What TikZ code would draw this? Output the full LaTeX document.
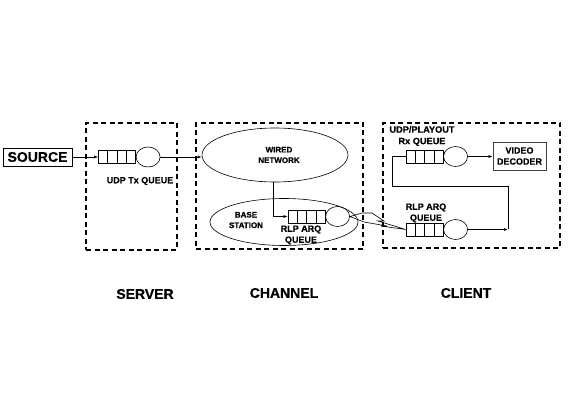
\documentclass[tikz,border=0pt]{standalone}
\usepackage{fontspec}
\setmainfont{Liberation Sans}[BoldFeatures={FakeBold=0.6}]
\usetikzlibrary{arrows.meta,shapes.geometric,calc}
\tikzset{
  x=1pt,y=-1pt,
  lbl/.style={font=\fontsize{8}{10.5}\selectfont\bfseries,align=center,inner sep=0pt},
  lblb/.style={lbl,font=\fontsize{9}{11}\selectfont\bfseries},
  biglbl/.style={font=\fontsize{14}{16}\selectfont\bfseries,inner sep=0pt},
  dbox/.style={draw,line width=1.3pt,dash pattern=on 5pt off 3.5pt},
  qbox/.style={draw,line width=0.6pt,minimum width=37pt,minimum height=13pt,inner sep=0pt},
  qsrv/.style={draw,line width=0.6pt,ellipse,minimum width=24pt,minimum height=20pt,inner sep=0pt},
  arr/.style={line width=0.6pt,-{Latex[length=4pt,width=3pt]}},
  ln/.style={line width=0.6pt},
}
\newcommand{\qcells}[1]{\foreach \f in {0.25,0.5,0.75}{\draw[ln] ($(#1.north west)!\f!(#1.north east)$) -- ($(#1.south west)!\f!(#1.south east)$);}}
\begin{document}
\begin{tikzpicture}
\useasboundingbox[fill=white] (0,0) rectangle (574,409);
% dashed boxes
\node[dbox,minimum width=91pt,minimum height=127pt] (server) at (131.5,186.5) {};
\node[dbox,minimum width=167pt,minimum height=126pt] (channel) at (279.5,186) {};
\node[dbox,minimum width=177pt,minimum height=125pt] (client) at (471.5,185.5) {};
% source
\node[draw,line width=0.9pt,minimum width=69pt,minimum height=18pt,inner sep=0pt,font=\fontsize{14}{16}\selectfont\bfseries] (source) at (37.5,157) {SOURCE};
% server queue
\node[qbox] (sq) at (117,157) {};
\qcells{sq}
\node[qsrv,anchor=west] (sc) at (sq.east) {};
\node[lblb] (sqt) at (140,181) {UDP Tx QUEUE};
% channel
\node[draw,ln,ellipse,minimum width=146pt,minimum height=54pt,inner sep=0pt] (wired) at (275,155) {};
\node[lbl] (wiredt) at (279,155) {WIRED\\NETWORK};
\node[draw,ln,ellipse,minimum width=148pt,minimum height=47pt,inner sep=0pt] (bs) at (284,222) {};
\node[lbl] (bst) at (246,220) {BASE\\STATION};
\node[qbox] (bq) at (306.5,216.5) {};
\qcells{bq}
\node[qsrv,anchor=west] (bc) at (bq.east) {};
\node[lblb] (bqt) at (301,235) {RLP ARQ\\QUEUE};
% client
\node[qbox] (rq) at (424.5,156.5) {};
\qcells{rq}
\node[qsrv,anchor=west] (rc) at (rq.east) {};
\node[lbl,font=\fontsize{9.2}{11.5}\selectfont\bfseries] (rqt) at (422,136) {UDP/PLAYOUT\\Rx QUEUE};
\node[draw,line width=0.8pt,draw=black!75,minimum width=53pt,minimum height=28pt,inner sep=0pt,lblb] (dec) at (519.5,156) {VIDEO\\DECODER};
\node[qbox] (cq) at (424.5,229.5) {};
\qcells{cq}
\node[qsrv,anchor=west] (cc) at (cq.east) {};
\node[lblb] (cqt) at (426,213) {RLP ARQ\\QUEUE};
% connectors
\draw[arr] (source.east) -- (sq.west);
\draw[arr] (sc.east) -- (sc.east -| wired.west);
\draw[arr] (wired.south -| 273,0) -- (273,216.5) -- (bq.west);
\draw[arr] (rc.east) -- (dec.west |- rc.east);
\coordinate (k1) at (508,230);
\coordinate (k2) at (508,186);
\coordinate (k3) at (392,186);
\draw[arr] (cc.east) -- (cc.east -| k1);
\draw[ln] (cc.east -| k1) -- (k2) -- (k3) -- (k3 |- rq.west) -- (rq.west);
% wireless link (lightning)
\draw[ln] (bc.east) -- (362,213) -- (372,213) -- (384,221) -- (378,221) -- (cq.west) -- (381,226) -- (387,226) -- (364,222) -- (bc.east);
% labels
\node[biglbl] (srvl) at (145,294) {SERVER};
\node[biglbl] (chl) at (284,293) {CHANNEL};
\node[biglbl] (cll) at (466,293) {CLIENT};
\end{tikzpicture}
\end{document}
